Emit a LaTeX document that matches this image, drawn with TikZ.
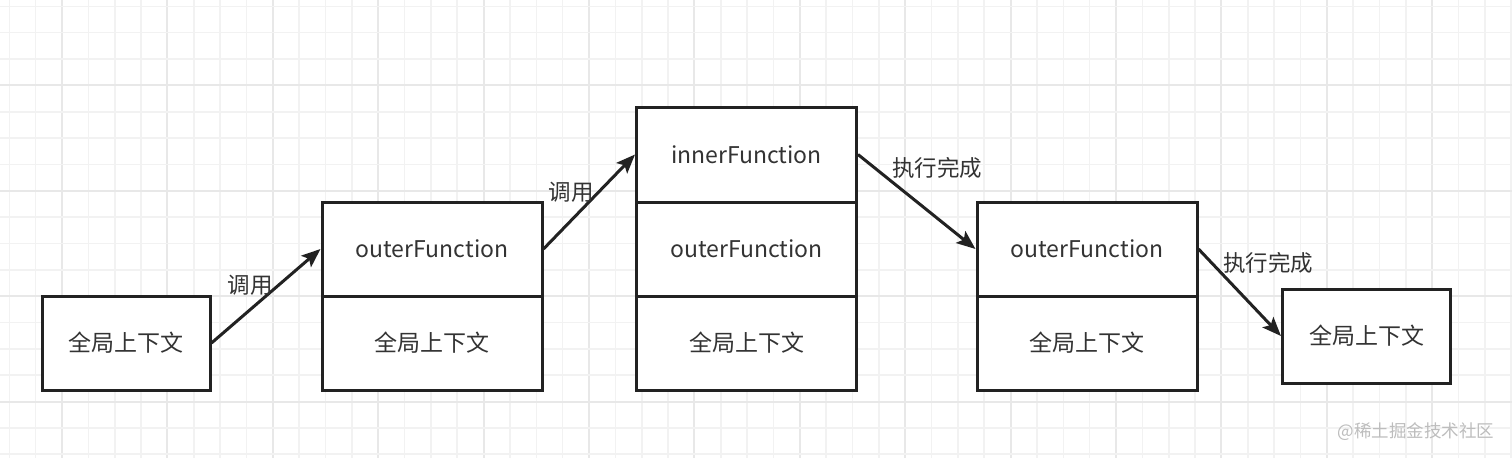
\documentclass[tikz,border=0pt]{standalone}
\usepackage{fontspec}
\setmainfont{Noto Sans CJK SC}
\usetikzlibrary{arrows.meta}
\definecolor{gridminor}{HTML}{F2F2F2}
\definecolor{gridmajor}{HTML}{E8E8E8}
\definecolor{ink}{HTML}{222222}
\definecolor{txt}{HTML}{333333}
\definecolor{wm}{HTML}{BDBDBD}
\begin{document}
\begin{tikzpicture}[x=1pt,y=-1pt,
  cell/.style={draw=ink, line width=3pt, fill=white, inner sep=0pt,
    minimum height=94pt, text=txt, font=\fontsize{23}{23}\selectfont},
  widecell/.style={cell, minimum width=220pt},
  narrowcell/.style={cell, minimum width=168pt},
  lbl/.style={text=txt, inner sep=0pt, font=\fontsize{22.5}{22.5}\selectfont},
  conn/.style={draw=ink, line width=3pt, -{Stealth[length=19pt,width=15pt,inset=4pt]}}]
\useasboundingbox (0,0) rectangle (1512,458);
\fill[white] (0,0) rectangle (1512,458);
% grid
\foreach \i in {0,...,57} {
  \pgfmathtruncatemacro{\m}{mod(\i+2,4)}
  \ifnum\m=0
    \draw[gridmajor, line width=2pt] (9.3+26.35*\i,0) -- (9.3+26.35*\i,458);
  \else
    \draw[gridminor, line width=1.6pt] (9.3+26.35*\i,0) -- (9.3+26.35*\i,458);
  \fi
}
\foreach \j in {0,...,17} {
  \pgfmathtruncatemacro{\m}{mod(\j+1,4)}
  \ifnum\m=0
    \draw[gridmajor, line width=2pt] (0,6.3+26.35*\j) -- (1512,6.3+26.35*\j);
  \else
    \draw[gridminor, line width=1.6pt] (0,6.3+26.35*\j) -- (1512,6.3+26.35*\j);
  \fi
}
% boxes
\node[narrowcell] (b1) at (126,343) {全局上下文};
\node[widecell] (b2a) at (432,249) {outerFunction};
\node[widecell] (b2b) at (432,343) {全局上下文};
\node[widecell, minimum height=95pt] (b3a) at (746.5,154.5) {innerFunction};
\node[widecell] (b3b) at (746.5,249) {outerFunction};
\node[widecell] (b3c) at (746.5,343) {全局上下文};
\node[widecell] (b4a) at (1087,249) {outerFunction};
\node[widecell] (b4b) at (1087,343) {全局上下文};
\node[narrowcell] (b5) at (1366.5,336) {全局上下文};
% connectors
\draw[conn] (b1.east) -- (b2a.west);
\draw[conn] (b2a.east) -- (b3a.west);
\draw[conn] (b3a.east) -- (b4a.west);
\draw[conn] (b4a.east) -- (b5.west);
% labels
\node[lbl] (l1) at (250,285) {调用};
\node[lbl] (l2) at (571,192) {调用};
\node[lbl] (l3) at (937,168) {执行完成};
\node[lbl] (l4) at (1268,263) {执行完成};
% watermark
\node[text=wm, inner sep=0pt, font=\fontsize{17.5}{17.5}\selectfont] (wmk) at (1416,432) {@稀土掘金技术社区};
\end{tikzpicture}
\end{document}
